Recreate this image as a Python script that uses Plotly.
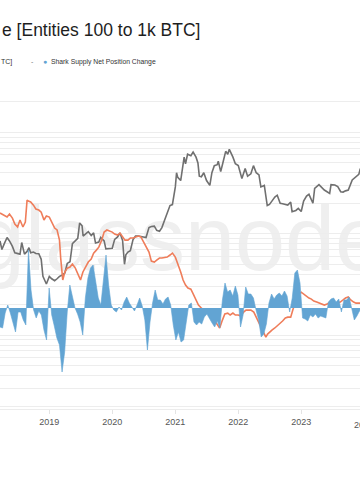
import pandas as pd
import plotly.graph_objects as go

# ---------------- data ----------------
price_dates = ["2018-03-21","2018-04-01","2018-04-15","2018-05-01","2018-05-15","2018-06-01","2018-06-15","2018-07-01","2018-07-15","2018-07-25","2018-08-10","2018-08-25","2018-09-05","2018-09-15","2018-10-01","2018-10-15","2018-11-01","2018-11-15","2018-11-25","2018-12-15","2019-01-01","2019-01-15","2019-02-01","2019-02-15","2019-03-01","2019-03-15","2019-04-01","2019-04-15","2019-05-01","2019-05-15","2019-06-01","2019-06-15","2019-06-26","2019-07-10","2019-07-16","2019-08-01","2019-08-15","2019-09-01","2019-09-15","2019-09-26","2019-10-15","2019-10-26","2019-11-15","2019-11-25","2019-12-15","2020-01-01","2020-01-15","2020-02-01","2020-02-15","2020-03-01","2020-03-12","2020-03-20","2020-04-01","2020-04-15","2020-05-01","2020-05-15","2020-06-01","2020-06-15","2020-07-01","2020-07-15","2020-08-01","2020-08-15","2020-09-01","2020-09-15","2020-10-01","2020-10-15","2020-11-01","2020-11-15","2020-12-01","2020-12-15","2021-01-01","2021-01-08","2021-01-15","2021-02-01","2021-02-15","2021-02-21","2021-03-01","2021-03-13","2021-04-01","2021-04-14","2021-05-01","2021-05-12","2021-05-20","2021-06-01","2021-06-15","2021-07-01","2021-07-20","2021-08-01","2021-08-15","2021-09-01","2021-09-07","2021-09-21","2021-10-01","2021-10-20","2021-11-01","2021-11-10","2021-12-01","2021-12-15","2022-01-01","2022-01-22","2022-02-10","2022-02-24","2022-03-15","2022-03-30","2022-04-15","2022-05-01","2022-05-12","2022-06-01","2022-06-18","2022-07-01","2022-07-15","2022-08-01","2022-08-15","2022-09-01","2022-09-15","2022-10-01","2022-10-15","2022-11-01","2022-11-09","2022-12-01","2022-12-15","2023-01-01","2023-01-15","2023-02-01","2023-02-15","2023-03-10","2023-03-20","2023-04-14","2023-05-01","2023-05-15","2023-06-15","2023-06-23","2023-07-15","2023-08-01","2023-08-18","2023-09-01","2023-09-15","2023-10-01","2023-10-24","2023-11-15","2023-12-01","2023-12-10"]
price_usd = [8500,7000,8000,9200,8500,7500,6500,6400,6300,8200,6300,6700,7300,6500,6600,6400,6350,5600,3800,3200,3800,3600,3450,3600,3800,3900,4100,5100,5300,8000,8500,9000,12800,12000,9500,10000,10500,9600,10200,8100,8300,9200,8500,7100,7100,7200,8800,9300,10200,8600,5000,6200,6600,6800,8800,9500,9500,9400,9200,9200,11500,11800,11900,10800,10600,11500,13800,16000,19000,19400,29000,40000,36000,33500,48000,57000,49000,61000,59000,64000,57000,50000,37000,36500,40000,33500,30000,40000,47000,48000,52000,41000,48000,65000,61000,68000,57000,49000,47000,35000,44000,37000,39000,47000,40000,38000,29000,30000,19000,19500,21000,23000,24000,20000,19800,19300,19200,20500,16500,17000,17800,16600,21000,23500,24500,20000,28000,30500,28500,27000,25000,30500,30300,29200,26000,25800,26500,27000,34000,37000,38500,44000]

supply_dates = ["2018-03-21","2018-04-01","2018-04-15","2018-05-01","2018-05-15","2018-06-01","2018-06-15","2018-07-01","2018-07-15","2018-08-01","2018-08-15","2018-08-25","2018-09-01","2018-09-15","2018-10-01","2018-10-15","2018-11-01","2018-11-15","2018-12-01","2018-12-15","2019-01-01","2019-01-15","2019-02-01","2019-02-15","2019-03-01","2019-03-08","2019-03-15","2019-03-20","2019-04-01","2019-04-15","2019-05-01","2019-05-15","2019-06-01","2019-06-15","2019-07-01","2019-07-15","2019-08-01","2019-08-15","2019-09-01","2019-09-15","2019-10-01","2019-10-15","2019-11-01","2019-11-15","2019-12-01","2019-12-15","2020-01-01","2020-01-15","2020-02-01","2020-02-15","2020-03-01","2020-03-15","2020-04-01","2020-04-15","2020-05-01","2020-05-15","2020-06-01","2020-06-15","2020-07-01","2020-07-15","2020-08-01","2020-08-15","2020-09-01","2020-09-15","2020-10-01","2020-10-15","2020-11-01","2020-11-15","2020-12-01","2020-12-15","2021-01-01","2021-01-15","2021-02-01","2021-02-15","2021-03-01","2021-03-15","2021-04-01","2021-04-15","2021-05-01","2021-05-15","2021-06-01","2021-06-15","2021-07-01","2021-07-15","2021-08-01","2021-08-15","2021-09-01","2021-09-15","2021-10-01","2021-10-15","2021-11-01","2021-11-15","2021-12-01","2021-12-15","2022-01-01","2022-01-15","2022-02-01","2022-02-15","2022-03-01","2022-03-15","2022-04-01","2022-04-15","2022-05-01","2022-05-15","2022-06-01","2022-06-10","2022-06-20","2022-07-01","2022-07-15","2022-08-01","2022-08-15","2022-09-01","2022-09-15","2022-10-01","2022-10-15","2022-11-01","2022-11-10","2022-11-15","2022-12-01","2022-12-15","2023-01-01","2023-01-15","2023-02-01","2023-02-15","2023-03-01","2023-03-15","2023-04-01","2023-04-15","2023-05-01","2023-05-15","2023-06-01","2023-06-15","2023-07-01","2023-07-15","2023-08-01","2023-08-15","2023-09-01","2023-09-15","2023-10-01","2023-10-15","2023-11-01","2023-11-15","2023-12-01","2023-12-15"]
shark_supply_m = [4.226,4.220,4.209,4.203,4.220,4.197,4.163,4.146,4.186,4.146,4.174,4.300,4.294,4.289,4.271,4.249,4.243,4.231,4.186,4.209,4.203,4.174,4.140,4.129,4.071,3.969,3.871,3.843,3.889,3.911,3.917,3.934,3.911,3.877,3.843,3.889,3.917,3.946,3.963,3.997,4.014,4.031,4.071,4.117,4.129,4.123,4.117,4.106,4.100,4.111,4.089,4.071,4.071,4.083,4.083,4.089,4.094,4.089,4.060,4.037,4.003,3.951,3.946,3.957,3.969,3.969,3.974,3.974,3.986,3.997,3.974,3.940,3.889,3.843,3.814,3.797,3.791,3.763,3.729,3.700,3.683,3.671,3.660,3.654,3.637,3.614,3.586,3.569,3.614,3.649,3.654,3.643,3.654,3.643,3.643,3.637,3.660,3.671,3.671,3.671,3.660,3.631,3.591,3.569,3.534,3.517,3.534,3.546,3.557,3.569,3.580,3.597,3.609,3.626,3.631,3.631,3.654,3.677,3.723,3.763,3.774,3.763,3.746,3.740,3.734,3.723,3.717,3.711,3.706,3.700,3.706,3.717,3.723,3.711,3.711,3.717,3.729,3.740,3.746,3.729,3.717,3.711,3.711,3.711]

# 30d net position change, thousand BTC, one value every 15 days from 2018-03-21
net_change_kbtc = [-47.5,-50,-12.5,7.5,-12.5,-35,-60,-10,-10,-30,-42.5,145,45,-5,-25,-7.5,-17.5,-55,-80,50,-17.5,-45,-75,-92.5,-160,-110,-10,57.5,30,0,-15,-35,-67.5,25,75,100,107.5,62.5,25,7.5,65,132.5,57.5,7.5,-5,-10,2.5,-5,15,27.5,12.5,2.5,-7.5,7.5,25,5,-30,-105,-35,12.5,45,20,20,10,22.5,27.5,7.5,-42.5,-80,-60,-85,-80,-35,7.5,12.5,-35,-42.5,-35,-40,-22.5,-15,-27.5,-37.5,-47.5,-32.5,-50,20,62.5,40,45,30,55,32.5,-47.5,-17.5,52.5,35,35,25,-5,-30,-72.5,-65,-40,12.5,35,22.5,32.5,37.5,30,42.5,30,-10,25,87.5,95,62.5,-25,-27.5,-32.5,-17.5,-22.5,-15,-25,-20,-22.5,-25,15,22.5,25,15,22.5,-10,20,20,27.5,-5,-30,-20,-7.5,-2.5]
net_change_dates = pd.date_range("2018-03-21", periods=len(net_change_kbtc), freq="15D")

year_ticks = ["2019-01-01", "2020-01-01", "2021-01-01", "2022-01-01", "2023-01-01"]
year_labels = ["2019", "2020", "2021", "2022", "2023"]

title_text = "e [Entities 100 to 1k BTC]"
legend_cut = "TC]"
legend_blue = "Shark Supply Net Position Change"

# ---------------- styling ----------------
FONT = "Liberation Sans, Arial, sans-serif"
BLUE = "#62a4d3"
ORANGE = "#ef7d5a"
GRAY = "#707070"
GRID = "#ededed"

fig = go.Figure()
fig.add_trace(go.Scatter(x=net_change_dates, y=net_change_kbtc, yaxis="y3", mode="lines",
                         line=dict(color=BLUE, width=0.6), fill="tozeroy",
                         fillcolor=BLUE, name=legend_blue, showlegend=False))
fig.add_trace(go.Scatter(x=supply_dates, y=shark_supply_m, yaxis="y2", mode="lines",
                         line=dict(color=ORANGE, width=1.6), name="Shark Supply [BTC]",
                         showlegend=False))
fig.add_trace(go.Scatter(x=price_dates, y=price_usd, yaxis="y", mode="lines",
                         line=dict(color=GRAY, width=1.6), name="Price [USD]",
                         showlegend=False))

fig.update_layout(
    width=360, height=504,
    margin=dict(l=0, r=0, t=90, b=95),
    paper_bgcolor="white", plot_bgcolor="white",
    font=dict(family=FONT, color="#333"),
    xaxis=dict(type="date", range=["2018-03-21", "2023-12-08"], showgrid=False,
               tickvals=year_ticks, ticktext=year_labels, ticks="outside", ticklen=4,
               tickcolor="#e4e4e4", tickfont=dict(size=9, color="#555"),
               showline=True, linecolor="#ececec", zeroline=False),
    yaxis=dict(type="log", range=[2.272, 5.418], dtick="D1", showgrid=True,
               gridcolor=GRID, showticklabels=False, zeroline=False, ticks=""),
    yaxis2=dict(overlaying="y", range=[3.106, 4.929], showgrid=False,
                showticklabels=False, zeroline=False),
    yaxis3=dict(overlaying="y", range=[-252.5, 545], showgrid=False,
                showticklabels=False, zeroline=False),
    showlegend=False,
)

fig.add_shape(type="rect", xref="paper", yref="paper", x0=-0.3, x1=1.3, y0=0.41, y1=0.71,
              line=dict(width=0), fillcolor="rgba(0,0,0,0)", layer="below",
              label=dict(text="glassnode", font=dict(size=90, color="#efefef", family=FONT),
                         textposition="middle center"))

fig.add_annotation(xref="paper", yref="paper", x=0, y=1.188, xanchor="left", yanchor="middle",
                   text=title_text, showarrow=False,
                   font=dict(size=17.5, color="#1e1e1e", family=FONT))
fig.add_annotation(xref="paper", yref="paper", x=-0.003, y=1.0878, xanchor="left", yanchor="middle",
                   text=legend_cut, showarrow=False, font=dict(size=7, color="#333", family=FONT))
fig.add_annotation(xref="paper", yref="paper", x=0.089, y=1.0878, xanchor="center", yanchor="middle",
                   text="-", showarrow=False, font=dict(size=7, color="#777", family=FONT))
fig.add_annotation(xref="paper", yref="paper", x=0.126, y=1.0878, xanchor="center", yanchor="middle",
                   text="●", showarrow=False, font=dict(size=7, color=BLUE, family=FONT))
fig.add_annotation(xref="paper", yref="paper", x=0.137, y=1.0878, xanchor="left", yanchor="middle",
                   text=legend_blue, showarrow=False, font=dict(size=6.8, color="#333", family=FONT))
fig.add_annotation(xref="paper", yref="paper", x=1.011, y=-0.05, xanchor="center", yanchor="middle",
                   text="2024", showarrow=False, font=dict(size=9, color="#555", family=FONT))

fig.write_html("out.html", config={"displayModeBar": False},
               post_script="document.body.style.margin='0px';")
